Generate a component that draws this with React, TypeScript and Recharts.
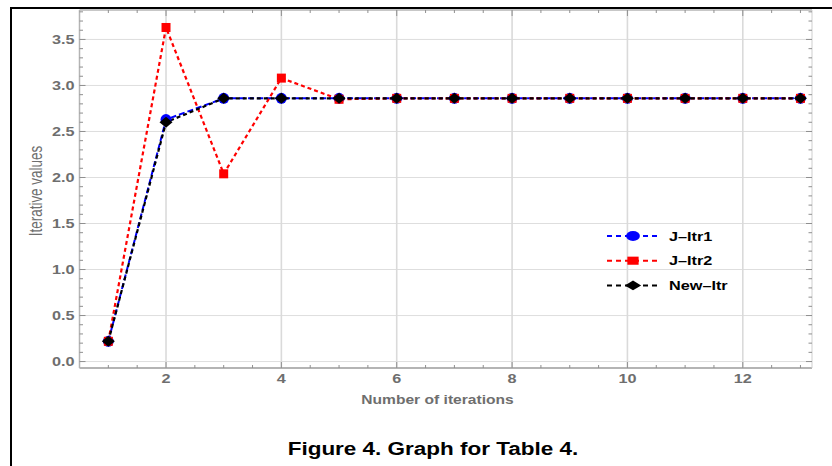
import { LineChart, Line, XAxis, YAxis, CartesianGrid, Legend } from "recharts"

const iterations = [1, 2, 3, 4, 5, 6, 7, 8, 9, 10, 11, 12, 13]
const jItr1 = [0.22, 2.63, 2.86, 2.86, 2.86, 2.86, 2.86, 2.86, 2.86, 2.86, 2.86, 2.86, 2.86]
const jItr2 = [0.22, 3.63, 2.04, 3.08, 2.85, 2.86, 2.86, 2.86, 2.86, 2.86, 2.86, 2.86, 2.86]
const newItr = [0.22, 2.6, 2.86, 2.86, 2.86, 2.86, 2.86, 2.86, 2.86, 2.86, 2.86, 2.86, 2.86]

const xTicks = [2, 4, 6, 8, 10, 12]
const xMinorTicks = [1, 1.5, 2.5, 3, 3.5, 4.5, 5, 5.5, 6.5, 7, 7.5, 8.5, 9, 9.5, 10.5, 11, 11.5, 12.5, 13]
const yTicks = [0, 0.5, 1, 1.5, 2, 2.5, 3, 3.5]
const yMinorTicks = [
  0.1, 0.2, 0.3, 0.4, 0.6, 0.7, 0.8, 0.9, 1.1, 1.2, 1.3, 1.4, 1.6, 1.7, 1.8, 1.9,
  2.1, 2.2, 2.3, 2.4, 2.6, 2.7, 2.8, 2.9, 3.1, 3.2, 3.3, 3.4, 3.6, 3.7, 3.8,
]

const legendItems = [
  { name: "J\u2013Itr1", color: "#0000ff", shape: "circle" },
  { name: "J\u2013Itr2", color: "#ff0000", shape: "square" },
  { name: "New\u2013Itr", color: "#000000", shape: "diamond" },
]

const X_DOMAIN = [0.5, 13.2]
const Y_DOMAIN = [-0.07, 3.82]
const FONT = "'Liberation Sans', Arial, sans-serif"
const LABEL = "#6e6e6e"
const AXIS = "#b4b4b4"
const TICK = "#8f8f8f"

const xAllTicks = [...xTicks, ...xMinorTicks].sort((a, b) => a - b)
const yAllTicks = [...yTicks, ...yMinorTicks].sort((a, b) => a - b)
const isMajorX = (v: number) => xTicks.some((t) => Math.abs(t - v) < 1e-6)
const isMajorY = (v: number) => yTicks.some((t) => Math.abs(t - v) < 1e-6)

const data = iterations.map((x, i) => ({
  x,
  jItr1: jItr1[i],
  jItr2: jItr2[i],
  newItr: newItr[i],
}))

// text in the source image is stretched horizontally by about 1.3
const BottomTick = ({ x, y, payload }: any) => {
  const major = isMajorX(payload.value)
  return (
    <g>
      <line x1={x} x2={x} y1={y} y2={y - (major ? 6 : 3)} stroke={TICK} />
      {major && (
        <text
          transform={`translate(${x},${y + 6}) scale(1.3,1)`}
          textAnchor="middle"
          dy="0.71em"
          fill={LABEL}
          fontSize={12.5}
          fontWeight="bold"
          fontFamily={FONT}
        >
          {payload.value}
        </text>
      )}
    </g>
  )
}

const TopTick = ({ x, y, payload }: any) => {
  const major = isMajorX(payload.value)
  return <line x1={x} x2={x} y1={y} y2={y + (major ? 6 : 3)} stroke={TICK} />
}

const LeftTick = ({ x, y, payload }: any) => {
  const major = isMajorY(payload.value)
  return (
    <g>
      <line x1={x} x2={x + (major ? 6 : 3.5)} y1={y} y2={y} stroke={TICK} />
      {major && (
        <text
          transform={`translate(${x - 5},${y}) scale(1.3,1)`}
          textAnchor="end"
          dy="0.355em"
          fill={LABEL}
          fontSize={12.5}
          fontWeight="bold"
          fontFamily={FONT}
        >
          {Number(payload.value).toFixed(1)}
        </text>
      )}
    </g>
  )
}

const RightTick = ({ x, y, payload }: any) => {
  const major = isMajorY(payload.value)
  return <line x1={x} x2={x - (major ? 6 : 3.5)} y1={y} y2={y} stroke={TICK} />
}

const renderMarker = (shape: string, cx: number, cy: number, color: string, key?: any) => {
  if (shape === "circle") return <circle key={key} cx={cx} cy={cy} r={5.5} fill={color} />
  if (shape === "square")
    return <rect key={key} x={cx - 4.5} y={cy - 4.5} width={9} height={9} fill={color} />
  return (
    <polygon
      key={key}
      points={`${cx - 6.5},${cy} ${cx},${cy - 5.5} ${cx + 6.5},${cy} ${cx},${cy + 5.5}`}
      fill={color}
    />
  )
}

const dotFor = (shape: string, color: string) => (props: any) =>
  renderMarker(shape, props.cx, props.cy, color, props.key ?? props.index)

const renderLegend = () => (
  <svg width={170} height={76}>
    {legendItems.map((item, i) => {
      const cy = 14 + i * 24.7
      return (
        <g key={item.name}>
          <line
            x1={7}
            x2={57}
            y1={cy}
            y2={cy}
            stroke={item.color}
            strokeWidth={2}
            strokeDasharray="5 4"
          />
          <g transform={`translate(33,${cy}) scale(1.25,0.9) translate(-33,${-cy})`}>
            {renderMarker(item.shape, 33, cy, item.color)}
          </g>
          <text
            transform={`translate(69,${cy}) scale(1.3,1)`}
            dy="0.36em"
            fontSize={12.5}
            fontWeight="bold"
            fontFamily={FONT}
            fill="#000"
          >
            {item.name}
          </text>
        </g>
      )
    })}
  </svg>
)

export default function App() {
  return (
    <div
      style={{
        position: "absolute",
        left: 0,
        top: 0,
        width: 832,
        height: 466,
        overflow: "hidden",
        background: "#fff",
      }}
    >
      <div
        style={{
          position: "absolute",
          left: 10,
          top: 7,
          width: 900,
          height: 500,
          borderLeft: "2.5px solid #000",
          borderTop: "2.5px solid #000",
        }}
      />
      <div style={{ position: "absolute", left: 0, top: 0 }}>
        <LineChart
          width={832}
          height={466}
          data={data}
          margin={{ top: 10, right: 20, left: 0, bottom: 48 }}
        >
          <CartesianGrid
            vertical={false}
            horizontalValues={yTicks}
            stroke="#dedede"
            strokeWidth={1}
          />
          <CartesianGrid
            horizontal={false}
            verticalValues={xTicks}
            stroke="#dadada"
            strokeWidth={1.6}
          />

          <XAxis
            dataKey="x"
            type="number"
            domain={X_DOMAIN}
            allowDataOverflow
            ticks={xAllTicks}
            interval={0}
            tickLine={false}
            tickSize={0}
            tickMargin={0}
            axisLine={{ stroke: AXIS, strokeWidth: 2 }}
            height={50}
            tick={<BottomTick />}
            label={{
              content: () => (
                <text
                  transform="translate(437.5,404.3) scale(1.3,1)"
                  textAnchor="middle"
                  fill={LABEL}
                  fontSize={12}
                  fontWeight="bold"
                  fontFamily={FONT}
                >
                  Number of iterations
                </text>
              ),
            }}
          />
          <XAxis
            xAxisId="top"
            orientation="top"
            mirror
            dataKey="x"
            type="number"
            domain={X_DOMAIN}
            allowDataOverflow
            ticks={xAllTicks}
            interval={0}
            tickLine={false}
            tickSize={0}
            tickMargin={0}
            axisLine={{ stroke: AXIS, strokeWidth: 1.5 }}
            tick={<TopTick />}
          />

          <YAxis
            type="number"
            domain={Y_DOMAIN}
            allowDataOverflow
            ticks={yAllTicks}
            interval={0}
            tickLine={false}
            tickSize={0}
            tickMargin={0}
            width={79.5}
            axisLine={{ stroke: AXIS, strokeWidth: 1.5 }}
            tick={<LeftTick />}
            label={{
              content: () => (
                <text
                  transform="translate(35,191) scale(1.3,1) rotate(-90)"
                  y={5}
                  textAnchor="middle"
                  fill={LABEL}
                  fontSize={13.5}
                  fontFamily={FONT}
                >
                  Iterative values
                </text>
              ),
            }}
          />
          <YAxis
            yAxisId="right"
            orientation="right"
            mirror
            type="number"
            domain={Y_DOMAIN}
            allowDataOverflow
            ticks={yAllTicks}
            interval={0}
            tickLine={false}
            tickSize={0}
            tickMargin={0}
            axisLine={{ stroke: "#cfcfcf", strokeWidth: 1 }}
            tick={<RightTick />}
          />

          <Legend
            layout="vertical"
            align="center"
            verticalAlign="middle"
            content={renderLegend}
            wrapperStyle={{ position: "absolute", left: 600, top: 222, bottom: "auto", width: 170, height: 76 }}
          />

          <Line
            type="linear"
            dataKey="jItr1"
            name="J-Itr1"
            stroke="#0000ff"
            strokeWidth={2}
            strokeDasharray="6 3"
            dot={dotFor("circle", "#0000ff")}
            activeDot={false}
            isAnimationActive={false}
          />
          <Line
            type="linear"
            dataKey="jItr2"
            name="J-Itr2"
            stroke="#ff0000"
            strokeWidth={2.2}
            strokeDasharray="4 3"
            dot={dotFor("square", "#ff0000")}
            activeDot={false}
            isAnimationActive={false}
          />
          <Line
            type="linear"
            dataKey="newItr"
            name="New-Itr"
            stroke="#000000"
            strokeWidth={2.2}
            strokeDasharray="4 3"
            dot={dotFor("diamond", "#000000")}
            activeDot={false}
            isAnimationActive={false}
          />
        </LineChart>
      </div>
      <svg
        width={832}
        height={466}
        style={{ position: "absolute", left: 0, top: 0, pointerEvents: "none" }}
      >
        <text
          transform="translate(433,455) scale(1.25,1)"
          textAnchor="middle"
          fontSize={18}
          fontWeight="bold"
          fontFamily={FONT}
          fill="#000"
        >
          Figure 4. Graph for Table 4.
        </text>
      </svg>
    </div>
  )
}
